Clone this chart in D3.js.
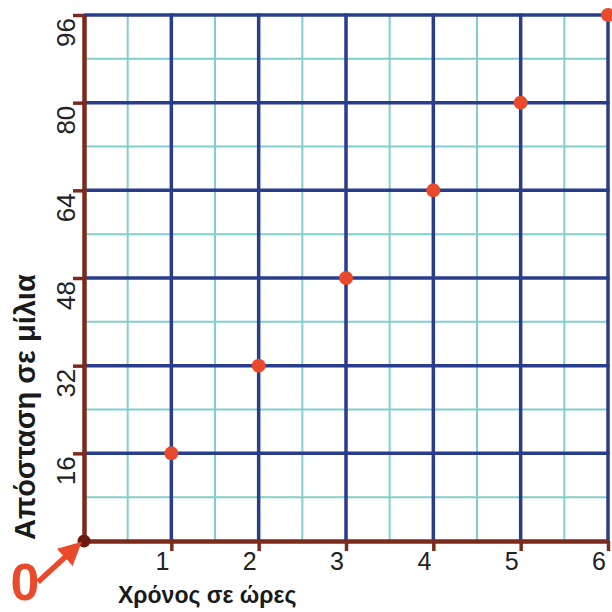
<!DOCTYPE html>
<html>
<head>
<meta charset="utf-8">
<script src="https://cdn.jsdelivr.net/npm/d3@7/dist/d3.min.js"></script>
<style>
  body { margin: 0; background: #fff; }
</style>
</head>
<body>
<div id="chart"></div>
<script>
// Data
const hours = [1, 2, 3, 4, 5, 6];
const miles = [16, 32, 48, 64, 80, 96];
const xTicks = [1, 2, 3, 4, 5, 6];
const yTicks = [16, 32, 48, 64, 80, 96];
const xMinor = [0.5, 1.5, 2.5, 3.5, 4.5, 5.5];
const yMinor = [8, 24, 40, 56, 72, 88];

const width = 612;
const height = 612;

const svg = d3.select('#chart')
  .append('svg')
  .attr('width', width)
  .attr('height', height)
  .style('font-family', '"Liberation Sans", Arial, sans-serif');

const x = d3.scaleLinear().domain([0, 6]).range([84, 608]);
const y = d3.scaleLinear().domain([0, 96]).range([541, 15]);

const blue = '#283d8c';
const teal = '#80cfcc';
const brown = '#7b2a1c';
const red = '#e94a2c';

// minor grid (teal)
svg.append('g').selectAll('line')
  .data(xMinor)
  .join('line')
  .attr('x1', d => x(d)).attr('x2', d => x(d))
  .attr('y1', y(0)).attr('y2', y(96))
  .attr('stroke', teal).attr('stroke-width', 2);

svg.append('g').selectAll('line')
  .data(yMinor)
  .join('line')
  .attr('x1', x(0)).attr('x2', x(6))
  .attr('y1', d => y(d)).attr('y2', d => y(d))
  .attr('stroke', teal).attr('stroke-width', 2);

// major grid (blue)
svg.append('g').selectAll('line')
  .data(xTicks)
  .join('line')
  .attr('x1', d => x(d)).attr('x2', d => x(d))
  .attr('y1', y(0)).attr('y2', y(96) - 1.5)
  .attr('stroke', blue).attr('stroke-width', 3.5);

svg.append('g').selectAll('line')
  .data(yTicks)
  .join('line')
  .attr('x1', x(0)).attr('x2', x(6) + 1.5)
  .attr('y1', d => y(d)).attr('y2', d => y(d))
  .attr('stroke', blue).attr('stroke-width', 3.5);

// axes
const yAxis = svg.append('g')
  .attr('transform', `translate(${x(0)},0)`)
  .call(d3.axisLeft(y).tickValues(yTicks).tickSize(11).tickSizeOuter(0).tickFormat(''));

const xAxis = svg.append('g')
  .attr('transform', `translate(0,${y(0)})`)
  .call(d3.axisBottom(x).tickValues(xTicks).tickSize(10).tickSizeOuter(0).tickFormat(''));

[yAxis, xAxis].forEach(g => {
  g.select('.domain').attr('stroke', brown).attr('stroke-width', 4.5);
  g.selectAll('.tick line').attr('stroke', brown).attr('stroke-width', 3.5);
});

// tick labels
svg.append('g').selectAll('text')
  .data(yTicks)
  .join('text')
  .attr('transform', d => `translate(75,${y(d) + 3}) rotate(-90)`)
  .attr('text-anchor', 'end')
  .attr('fill', '#222')
  .style('font-size', '26px')
  .text(d => d);

svg.append('g').selectAll('text')
  .data(xTicks)
  .join('text')
  .attr('x', d => x(d) - 2)
  .attr('y', 570)
  .attr('text-anchor', 'end')
  .attr('fill', '#222')
  .style('font-size', '25px')
  .text(d => d);

// points
svg.append('g').selectAll('circle')
  .data(hours.map((h, i) => ({ h, m: miles[i] })))
  .join('circle')
  .attr('cx', d => x(d.h))
  .attr('cy', d => y(d.m))
  .attr('r', 7)
  .attr('fill', red);

// origin dot
svg.append('circle')
  .attr('cx', x(0)).attr('cy', y(0))
  .attr('r', 6.5)
  .attr('fill', '#6b1d12');

// "0" marker with arrow
svg.append('defs').append('marker')
  .attr('id', 'head')
  .attr('viewBox', '0 0 10 10')
  .attr('refX', 6).attr('refY', 5)
  .attr('markerWidth', 4.2).attr('markerHeight', 4.2)
  .attr('orient', 'auto')
  .append('path')
  .attr('d', 'M0,0 L10,5 L0,10 Z')
  .attr('fill', red);

svg.append('line')
  .attr('x1', 38).attr('y1', 582)
  .attr('x2', x(0) - 9).attr('y2', y(0) + 7)
  .attr('stroke', red).attr('stroke-width', 5.5)
  .attr('marker-end', 'url(#head)');

svg.append('text')
  .attr('x', 25).attr('y', 600)
  .attr('text-anchor', 'middle')
  .attr('fill', red)
  .style('font-size', '52px')
  .style('font-weight', 'bold')
  .text('0');

// axis titles
svg.append('text')
  .attr('transform', 'translate(35,540) rotate(-90)')
  .attr('text-anchor', 'start')
  .attr('fill', '#1a1a1a')
  .style('font-size', '29px')
  .style('font-weight', 'bold')
  .text('Απόσταση σε μίλια');

svg.append('text')
  .attr('x', 118).attr('y', 603)
  .attr('fill', '#1a1a1a')
  .style('font-size', '23px')
  .style('font-weight', 'bold')
  .text('Χρόνος σε ώρες');
</script>
</body>
</html>
